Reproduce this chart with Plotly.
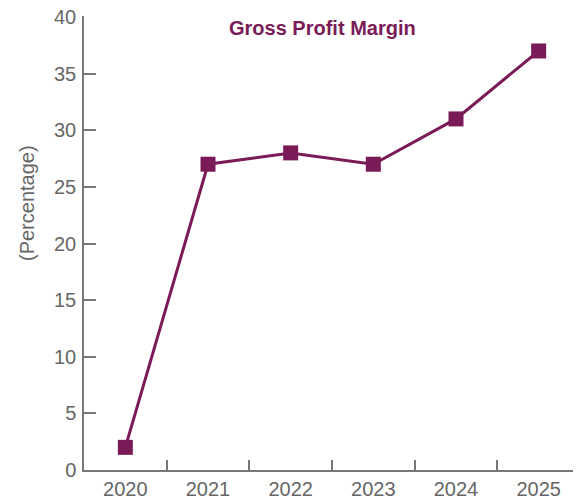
import plotly.graph_objects as go

years = ["2020", "2021", "2022", "2023", "2024", "2025"]
margin_pct = [2, 27, 28, 27, 31, 37]
y_ticks = [0, 5, 10, 15, 20, 25, 30, 35, 40]

color = "#7a1b58"
gray = "#666666"
FONT = "Liberation Sans, Arial, sans-serif"

fig = go.Figure(go.Scatter(
    x=years, y=margin_pct, mode="lines+markers",
    line=dict(color=color, width=3),
    marker=dict(symbol="square", size=15, color=color),
    cliponaxis=False,
))

# page body has an 8px default margin; compensate so the plot lands where the reference has it
fig.update_layout(
    width=573, height=494,
    margin=dict(l=76, r=1, t=8, b=32),
    plot_bgcolor="white", paper_bgcolor="white",
    showlegend=False,
    font=dict(family=FONT, color=gray, size=20),
)
fig.update_xaxes(
    type="category", range=[-0.5, 5.5], automargin=False,
    showgrid=False, showline=True, linecolor="#777777", linewidth=1.5,
    ticks="inside", tickson="boundaries", ticklen=10, tickcolor="#777777", tickwidth=1.5,
    tickfont=dict(size=20, color=gray), ticklabeloverflow="allow",
)
fig.update_yaxes(
    range=[0, 40.088], tickvals=y_ticks, automargin=False,
    showgrid=False, zeroline=False, showline=True, linecolor="#777777", linewidth=1.5,
    ticks="inside", ticklen=12, tickcolor="#777777", tickwidth=1.5,
    tickfont=dict(size=20, color=gray), ticklabelstandoff=2, ticklabeloverflow="allow",
)
fig.add_annotation(
    text="<b>Gross Profit Margin</b>", xref="paper", yref="paper",
    x=(322-84)/496, y=(470-28)/454, xanchor="center", yanchor="middle",
    showarrow=False, font=dict(size=20, color=color, family=FONT),
)
fig.add_annotation(
    text="(Percentage)", textangle=-90, xref="paper", yref="paper",
    x=(27-84)/496, y=(470-203)/454, showarrow=False, xanchor="center", yanchor="middle",
    font=dict(size=20, color=gray),
)
fig.write_html("out.html")
